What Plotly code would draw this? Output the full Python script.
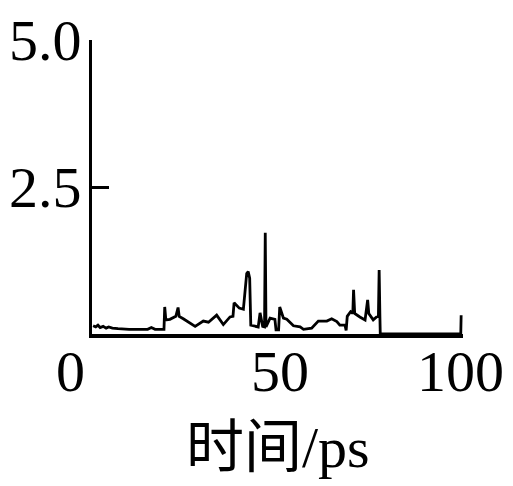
import plotly.graph_objects as go

# time (ps) and value series
time_ps = [0.3, 1.0, 1.6, 2.2, 3.0, 3.8, 4.5, 5.5, 7.0, 10, 15.0, 16.0, 17.0,
           19.4, 19.6, 19.9, 21.0, 22.6, 23.2, 23.5, 24.6, 26.0, 27.8, 30.0,
           31.4, 33.6, 35.4, 37.2, 38.0, 38.3, 39.7, 40.8, 41.3, 41.7, 42.1,
           42.5, 42.8, 44.8, 45.3, 46.0, 46.5, 46.7, 46.9, 48.0, 49.3, 49.6,
           50.3, 50.6, 51.6, 52.5, 54.3, 56.1, 57.0, 59.2, 61.0, 63.3, 64.6,
           66.0, 66.8, 68.2, 68.5, 68.8, 69.7, 70.3, 70.5, 70.8, 72.2, 73.6,
           74.3, 74.6, 75.8, 76.7, 77.2, 77.4, 77.6, 77.7, 99.4, 99.5]
values = [0.14, 0.12, 0.15, 0.11, 0.13, 0.10, 0.12, 0.10, 0.09, 0.08, 0.08, 0.11, 0.08,
          0.08, 0.46, 0.24, 0.25, 0.30, 0.45, 0.30, 0.26, 0.20, 0.13, 0.22,
          0.20, 0.32, 0.16, 0.29, 0.30, 0.53, 0.44, 0.42, 0.80, 1.03, 1.06,
          0.95, 0.15, 0.12, 0.36, 0.13, 0.12, 1.72, 0.12, 0.27, 0.25, 0.07,
          0.07, 0.46, 0.27, 0.25, 0.14, 0.12, 0.08, 0.10, 0.22, 0.22, 0.26,
          0.21, 0.15, 0.15, 0.06, 0.30, 0.38, 0.35, 0.75, 0.35, 0.29, 0.24,
          0.58, 0.35, 0.24, 0.29, 0.30, 1.09, 0.30, 0.0, 0.0, 0.32]

y_tick_vals = [2.5, 5.0]
y_tick_text = ["2.5", "5.0"]
x_tick_labels = ["0", "50", "100"]
x_tick_paper_pos = [-0.057, 0.507, 0.992]
x_title = "时间/ps"

SERIF = "Liberation Serif, Noto Sans CJK SC"

fig = go.Figure()
fig.add_trace(go.Scatter(x=time_ps, y=values, mode="lines",
                         line=dict(color="black", width=2.8), showlegend=False))

for lab, pos in zip(x_tick_labels, x_tick_paper_pos):
    fig.add_annotation(x=pos, xref="paper", y=-0.129, yref="paper", text=lab,
                       showarrow=False, xanchor="center", yanchor="middle",
                       font=dict(family=SERIF, size=58, color="black"))

fig.add_annotation(x=0.502, xref="paper", y=-0.386, yref="paper", text=x_title,
                   showarrow=False, xanchor="center", yanchor="middle",
                   font=dict(family=SERIF, size=58, color="black"))

fig.update_layout(
    width=513, height=486,
    margin=dict(l=92, r=50, t=40, b=152, autoexpand=False),
    paper_bgcolor="white", plot_bgcolor="white",
    xaxis=dict(range=[0, 100], showline=True, linecolor="black", linewidth=3.5,
               showgrid=False, zeroline=False, showticklabels=False, ticks="",
               automargin=False),
    yaxis=dict(range=[0, 5], showline=True, linecolor="black", linewidth=3,
               showgrid=False, zeroline=False, ticks="inside", ticklen=17,
               tickwidth=3, tickcolor="black", tickvals=y_tick_vals,
               ticktext=y_tick_text, ticklabelstandoff=-4, automargin=False,
               tickfont=dict(family=SERIF, size=58, color="black")),
)

fig.write_html("out.html", config={"displayModeBar": False},
               post_script="document.body.style.margin='0px';document.body.style.overflow='hidden';")
